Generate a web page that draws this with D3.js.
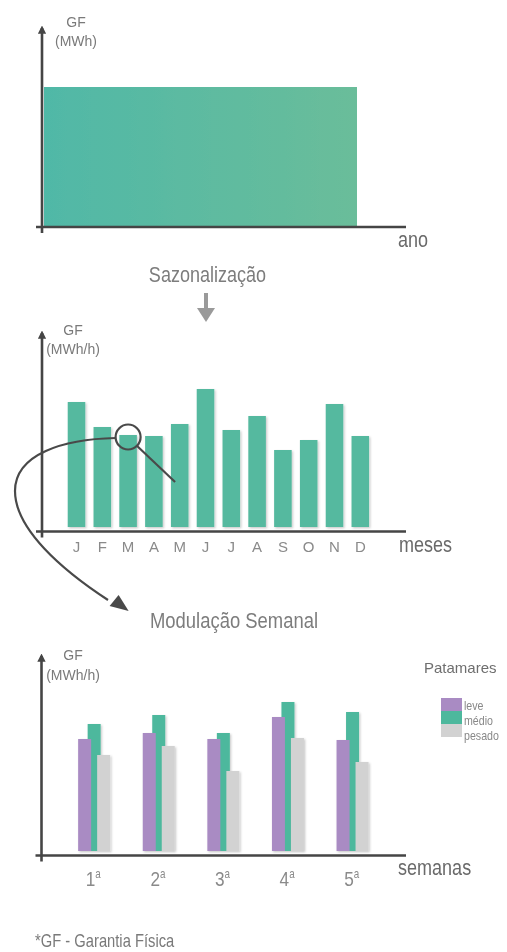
<!DOCTYPE html>
<html>
<head>
<meta charset="utf-8">
<script src="https://cdn.jsdelivr.net/npm/d3@7"></script>
<style>
  html, body { margin: 0; padding: 0; background: #fff; }
  svg { display: block; }
  text { font-family: "Liberation Sans", Arial, sans-serif; }
</style>
</head>
<body>
<svg id="chart" width="507" height="952"></svg>
<script>
// Garantia física anual (um único bloco)
const anoCategoria = ["ano"];
const anoValor = [69.5];

// Sazonalização mensal
const mesesChaves = ["jan","fev","mar","abr","mai","jun","jul","ago","set","out","nov","dez"];
const mesesRotulos = ["J","F","M","A","M","J","J","A","S","O","N","D"];
const gfMensal = [62.5, 50, 46, 45.5, 51.5, 69, 48.5, 55.5, 38.5, 43.5, 61.5, 45.5];

// Modulação semanal por patamar
const semanas = ["1", "2", "3", "4", "5"];
const patamares = ["leve", "médio", "pesado"];
const gfLeve   = [56, 59, 56, 67, 55.5];
const gfMedio  = [63.5, 68, 59, 74.5, 69.5];
const gfPesado = [48, 52.5, 40, 56.5, 44.5];

const corPatamar = { "leve": "#a98bc3", "médio": "#4db89d", "pesado": "#d2d2d2" };
const axisColor = "#454545";
const COND = 0.82; // largura horizontal da fonte condensada

const svg = d3.select("#chart");
const defs = svg.append("defs");

// soft shadow under bars
const sh = defs.append("filter").attr("id", "sombra")
  .attr("x", "-30%").attr("y", "-10%").attr("width", "160%").attr("height", "125%");
sh.append("feDropShadow").attr("dx", 1.2).attr("dy", 1.2).attr("stdDeviation", 1.3)
  .attr("flood-color", "#000").attr("flood-opacity", 0.22);

const blur = defs.append("filter").attr("id", "suave");
blur.append("feGaussianBlur").attr("stdDeviation", 0.5);

const grad = defs.append("linearGradient").attr("id", "gradAno")
  .attr("x1", "0%").attr("x2", "100%").attr("y1", "0%").attr("y2", "0%");
grad.append("stop").attr("offset", "0%").attr("stop-color", "#50b8a7");
grad.append("stop").attr("offset", "100%").attr("stop-color", "#6abd9a");

const arrowM = defs.append("marker").attr("id", "setaEixo")
  .attr("viewBox", "0 0 10 10").attr("refX", 7).attr("refY", 5)
  .attr("markerWidth", 3.2).attr("markerHeight", 3.2).attr("orient", "auto")
  .attr("markerUnits", "strokeWidth");
arrowM.append("path").attr("d", "M0,0 L10,5 L0,10 Z").attr("fill", axisColor);

// texto condensado: fonte regular comprimida na horizontal
function texto(g, x, y, str, size, fill, anchor = "start", cond = true) {
  const t = g.append("text")
    .attr("transform", `translate(${x},${y}) scale(${cond ? COND : 1},1)`)
    .attr("text-anchor", anchor).attr("font-size", size).attr("fill", fill)
    .text(str);
  return t;
}

function eixos(g, x0, yTop, yBase, xEnd) {
  g.append("line").attr("x1", x0).attr("x2", x0).attr("y1", yBase + 6).attr("y2", yTop + 3)
    .attr("stroke", axisColor).attr("stroke-width", 2.6)
    .attr("marker-end", "url(#setaEixo)");
  g.append("line").attr("x1", x0 - 6).attr("x2", xEnd).attr("y1", yBase).attr("y2", yBase)
    .attr("stroke", axisColor).attr("stroke-width", 2.6);
}

function rotuloGF(g, cx, ya, yb, unidade) {
  texto(g, cx, ya, "GF", 14, "#7a7a7a", "middle", false);
  texto(g, cx, yb, unidade, 14, "#7a7a7a", "middle", false);
}

// ---------- Painel 1: GF anual ----------
const p1 = svg.append("g").attr("filter", "url(#suave)");
const x1 = d3.scaleBand().domain(anoCategoria).range([44, 357]).padding(0);
const y1 = d3.scaleLinear().domain([0, 100]).range([226, 26]);
p1.selectAll("rect.ano").data(anoValor).join("rect").attr("class", "ano")
  .attr("x", (d, i) => x1(anoCategoria[i])).attr("width", x1.bandwidth())
  .attr("y", d => y1(d)).attr("height", d => y1(0) - y1(d))
  .attr("fill", "url(#gradAno)");
eixos(p1, 42, 25, 227, 406);
rotuloGF(p1, 76, 27, 46, "(MWh)");
texto(p1, 398, 246.5, "ano", 22, "#6a6a6a");

// ---------- Transição: Sazonalização ----------
const t1 = svg.append("g").attr("filter", "url(#suave)");
texto(t1, 207.5, 282, "Sazonalização", 22, "#7d7d7d", "middle");
t1.append("line").attr("x1", 206).attr("x2", 206).attr("y1", 293).attr("y2", 310)
  .attr("stroke", "#9a9a9a").attr("stroke-width", 4);
t1.append("path").attr("d", "M197,308 L215,308 L206,322 Z").attr("fill", "#9a9a9a");

// ---------- Painel 2: sazonalização mensal ----------
const p2 = svg.append("g").attr("filter", "url(#suave)");
const x2 = d3.scaleBand().domain(mesesChaves).range([63.6, 373.2]).paddingInner(0.32).paddingOuter(0.16);
const y2 = d3.scaleLinear().domain([0, 100]).range([527, 327]);
p2.append("g").attr("filter", "url(#sombra)")
  .selectAll("rect").data(gfMensal).join("rect")
  .attr("x", (d, i) => x2(mesesChaves[i])).attr("width", x2.bandwidth())
  .attr("y", d => y2(d)).attr("height", d => y2(0) - y2(d))
  .attr("fill", "#55b99f");
eixos(p2, 42, 330, 531.5, 406);
rotuloGF(p2, 73, 335, 354, "(MWh/h)");
mesesRotulos.forEach((m, i) => {
  texto(p2, x2(mesesChaves[i]) + x2.bandwidth() / 2, 551.5, m, 15, "#8a8a8a", "middle", false);
});
texto(p2, 399, 551.5, "meses", 22, "#6a6a6a");

// lupa sobre o mês de março e seta para a modulação semanal
const iMar = mesesChaves.indexOf("mar");
const lupaX = x2("mar") + x2.bandwidth() / 2;
const lupaY = y2(gfMensal[iMar]) + 2;
const lupaR = 12.5;
const ann = svg.append("g").attr("filter", "url(#suave)");
ann.append("circle").attr("cx", lupaX).attr("cy", lupaY).attr("r", lupaR)
  .attr("fill", "none").attr("stroke", "#4a4a4a").attr("stroke-width", 2.2);
ann.append("line")
  .attr("x1", lupaX + lupaR * 0.72).attr("y1", lupaY + lupaR * 0.72)
  .attr("x2", lupaX + 47).attr("y2", lupaY + 45)
  .attr("stroke", "#4a4a4a").attr("stroke-width", 2.2);
const sx = lupaX - lupaR, sy = lupaY + 1;
ann.append("path")
  .attr("d", `M${sx},${sy} C${sx - 52},${sy + 1} 15,${sy + 16} 15,${sy + 53} C15,${sy + 91} 62,${sy + 132} 108,${sy + 162}`)
  .attr("fill", "none").attr("stroke", "#4a4a4a").attr("stroke-width", 2.2);
ann.append("path").attr("d", `M${sx + 13},${sy + 173} L${sx - 6},${sy + 168} L${sx + 3},${sy + 157} Z`)
  .attr("fill", "#4a4a4a");

const t2 = svg.append("g").attr("filter", "url(#suave)");
texto(t2, 234, 627.5, "Modulação Semanal", 22.5, "#7d7d7d", "middle");

// ---------- Painel 3: modulação semanal ----------
const p3 = svg.append("g").attr("filter", "url(#suave)");
const x3 = d3.scaleBand().domain(semanas).range([62, 385]).paddingInner(0.5).paddingOuter(0.25);
const xp = d3.scalePoint().domain(patamares).range([0, 19]);
const y3 = d3.scaleLinear().domain([0, 100]).range([851, 651]);
const barW = 13;
const series = { "leve": gfLeve, "médio": gfMedio, "pesado": gfPesado };
// médio fica atrás; leve e pesado à frente
const ordem = ["médio", "leve", "pesado"];
const barras = p3.append("g").attr("filter", "url(#sombra)");
ordem.forEach(p => {
  barras.selectAll(null).data(series[p]).join("rect")
    .attr("x", (d, i) => x3(semanas[i]) + xp(p)).attr("width", barW)
    .attr("y", d => y3(d)).attr("height", d => y3(0) - y3(d))
    .attr("fill", corPatamar[p]);
});
eixos(p3, 41.5, 653, 855.5, 406);
rotuloGF(p3, 73, 660, 680, "(MWh/h)");
semanas.forEach(s => {
  const t = texto(p3, x3(s) + x3.bandwidth() / 2 - 1, 885.5, "", 21, "#8a8a8a", "middle");
  t.append("tspan").text(s);
  t.append("tspan").attr("font-size", 12).attr("dy", -8).text("a");
});
texto(p3, 398, 875, "semanas", 22, "#6a6a6a");

// legenda
const leg = svg.append("g").attr("filter", "url(#suave)");
texto(leg, 424, 673, "Patamares", 15, "#6e6e6e", "start", false);
const ly = d3.scaleBand().domain(patamares).range([698, 737]).padding(0);
patamares.forEach((p, i) => {
  leg.append("rect").attr("x", 441).attr("y", ly(p)).attr("width", 21).attr("height", ly.bandwidth())
    .attr("fill", corPatamar[p]);
  texto(leg, 464, 709.5 + i * 15, p, 13, "#888");
});

// nota de rodapé
const nota = svg.append("g").attr("filter", "url(#suave)");
texto(nota, 35, 947, "*GF - Garantia Física", 18, "#7a7a7a");
</script>
</body>
</html>
